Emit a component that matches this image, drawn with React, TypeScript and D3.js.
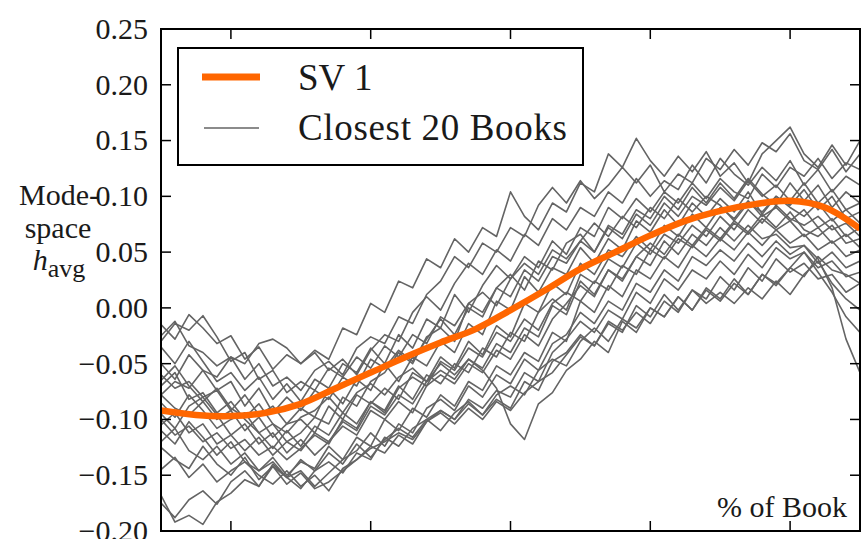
import React from 'react';
import * as d3 from 'd3';

// tick values
const yTicks = [-0.2, -0.15, -0.1, -0.05, 0, 0.05, 0.1, 0.15, 0.2, 0.25];
const xTicks = [10, 30, 50, 70, 90];

// SV 1 curve, read every 5 % of the book
const sv1Pct = d3.range(0, 101, 5);
const sv1 = [-0.092, -0.096, -0.097, -0.094, -0.086, -0.072, -0.058, -0.044, -0.031, -0.019, -0.002,
  0.016, 0.035, 0.050, 0.065, 0.078, 0.087, 0.093, 0.096, 0.090, 0.071];

// closest 20 books, read every 2 % of the book
const bookPct = d3.range(0, 101, 2);
const book01 = [-0.015, -0.028, -0.006, -0.018, -0.032, -0.025, -0.046, -0.035, -0.055, -0.042, -0.050, -0.038, -0.046, -0.018, -0.024, 0.004, -0.004, 0.024, 0.018, 0.044, 0.036, 0.062, 0.050, 0.072, 0.064, 0.104, 0.082, 0.070, 0.094, 0.086, 0.112, 0.104, 0.138, 0.126, 0.152, 0.132, 0.118, 0.136, 0.122, 0.140, 0.118, 0.130, 0.112, 0.138, 0.150, 0.162, 0.138, 0.126, 0.146, 0.128, 0.150];
const book02 = [-0.025, -0.012, -0.034, -0.040, -0.052, -0.044, -0.064, -0.050, -0.070, -0.062, -0.074, -0.056, -0.048, -0.060, -0.036, -0.026, -0.032, -0.008, -0.014, 0.012, 0.024, 0.046, 0.036, 0.058, 0.050, 0.072, 0.064, 0.092, 0.108, 0.094, 0.114, 0.098, 0.110, 0.126, 0.112, 0.128, 0.104, 0.120, 0.112, 0.134, 0.124, 0.142, 0.128, 0.148, 0.140, 0.156, 0.132, 0.124, 0.142, 0.122, 0.138];
const book03 = [-0.078, -0.066, -0.072, -0.056, -0.062, -0.044, -0.050, -0.032, -0.028, -0.036, -0.050, -0.040, -0.056, -0.046, -0.060, -0.038, -0.024, -0.030, -0.004, 0.010, -0.002, 0.022, 0.040, 0.030, 0.052, 0.042, 0.066, 0.056, 0.080, 0.070, 0.090, 0.082, 0.104, 0.094, 0.116, 0.100, 0.114, 0.106, 0.128, 0.112, 0.134, 0.120, 0.110, 0.126, 0.114, 0.132, 0.110, 0.124, 0.104, 0.118, 0.110];
const book04 = [-0.035, -0.050, -0.030, -0.048, -0.066, -0.058, -0.074, -0.062, -0.082, -0.068, -0.084, -0.064, -0.072, -0.050, -0.058, -0.036, -0.050, -0.024, -0.036, -0.010, -0.018, 0.012, -0.004, 0.020, 0.038, 0.026, 0.046, 0.036, 0.060, 0.048, 0.072, 0.064, 0.090, 0.080, 0.098, 0.086, 0.104, 0.094, 0.112, 0.098, 0.116, 0.104, 0.098, 0.120, 0.108, 0.126, 0.118, 0.134, 0.116, 0.130, 0.124];
const book05 = [-0.050, -0.064, -0.042, -0.056, -0.074, -0.066, -0.088, -0.072, -0.094, -0.080, -0.092, -0.074, -0.082, -0.062, -0.070, -0.046, -0.054, -0.038, -0.048, -0.028, -0.010, -0.024, 0.000, -0.008, 0.018, 0.030, 0.016, 0.042, 0.034, 0.058, 0.066, 0.050, 0.074, 0.066, 0.088, 0.080, 0.100, 0.088, 0.108, 0.094, 0.112, 0.098, 0.116, 0.102, 0.092, 0.112, 0.096, 0.110, 0.090, 0.104, 0.094];
const book06 = [-0.060, -0.072, -0.066, -0.080, -0.074, -0.092, -0.078, -0.096, -0.088, -0.104, -0.090, -0.098, -0.072, -0.086, -0.064, -0.074, -0.050, -0.066, -0.044, -0.052, -0.030, -0.040, -0.014, -0.024, 0.006, -0.002, 0.028, 0.014, 0.036, 0.030, 0.054, 0.040, 0.062, 0.052, 0.078, 0.068, 0.088, 0.074, 0.094, 0.082, 0.098, 0.086, 0.104, 0.084, 0.100, 0.092, 0.106, 0.088, 0.100, 0.080, 0.086];
const book07 = [-0.070, -0.058, -0.082, -0.076, -0.094, -0.084, -0.100, -0.112, -0.104, -0.120, -0.112, -0.098, -0.104, -0.080, -0.088, -0.066, -0.058, -0.040, -0.050, -0.026, -0.018, -0.030, 0.004, 0.014, 0.002, 0.026, 0.040, 0.030, 0.052, 0.044, 0.060, 0.076, 0.064, 0.082, 0.072, 0.090, 0.080, 0.098, 0.086, 0.100, 0.092, 0.078, 0.094, 0.086, 0.100, 0.090, 0.082, 0.094, 0.078, 0.088, 0.076];
const book08 = [-0.078, -0.090, -0.096, -0.084, -0.100, -0.092, -0.110, -0.098, -0.116, -0.104, -0.100, -0.112, -0.088, -0.100, -0.078, -0.086, -0.072, -0.082, -0.058, -0.066, -0.044, -0.054, -0.030, -0.042, -0.016, -0.026, 0.004, -0.004, 0.022, 0.012, 0.040, 0.030, 0.052, 0.046, 0.064, 0.052, 0.074, 0.064, 0.084, 0.072, 0.090, 0.080, 0.096, 0.082, 0.090, 0.078, 0.088, 0.072, 0.080, 0.064, 0.072];
const book09 = [-0.085, -0.098, -0.078, -0.092, -0.108, -0.100, -0.094, -0.112, -0.126, -0.110, -0.124, -0.106, -0.114, -0.094, -0.104, -0.084, -0.092, -0.070, -0.082, -0.060, -0.068, -0.050, -0.058, -0.036, -0.044, -0.022, -0.030, -0.004, 0.008, -0.002, 0.030, 0.022, 0.044, 0.036, 0.058, 0.048, 0.066, 0.058, 0.074, 0.064, 0.082, 0.070, 0.088, 0.076, 0.092, 0.080, 0.074, 0.082, 0.070, 0.076, 0.064];
const book10 = [-0.095, -0.108, -0.088, -0.080, -0.096, -0.114, -0.104, -0.122, -0.112, -0.130, -0.118, -0.132, -0.120, -0.106, -0.114, -0.092, -0.100, -0.084, -0.094, -0.070, -0.060, -0.068, -0.050, -0.058, -0.038, -0.046, -0.024, -0.034, -0.010, 0.004, 0.020, 0.010, 0.034, 0.024, 0.046, 0.058, 0.048, 0.066, 0.056, 0.072, 0.062, 0.078, 0.068, 0.084, 0.072, 0.086, 0.070, 0.064, 0.074, 0.058, 0.062];
const book11 = [-0.100, -0.114, -0.106, -0.120, -0.112, -0.126, -0.118, -0.132, -0.124, -0.136, -0.126, -0.114, -0.122, -0.100, -0.108, -0.084, -0.094, -0.072, -0.062, -0.070, -0.048, -0.056, -0.036, -0.044, -0.022, -0.030, -0.010, -0.020, 0.004, 0.014, 0.006, 0.024, 0.016, 0.038, 0.030, 0.052, 0.044, 0.062, 0.054, 0.070, 0.060, 0.076, 0.066, 0.080, 0.070, 0.078, 0.064, 0.072, 0.058, 0.066, 0.054];
const book12 = [-0.110, -0.122, -0.102, -0.116, -0.132, -0.120, -0.138, -0.146, -0.134, -0.150, -0.138, -0.144, -0.124, -0.136, -0.116, -0.124, -0.100, -0.110, -0.090, -0.098, -0.078, -0.088, -0.066, -0.074, -0.052, -0.060, -0.040, -0.048, -0.022, -0.030, 0.006, -0.004, 0.020, 0.010, 0.034, 0.026, 0.046, 0.036, 0.056, 0.046, 0.062, 0.052, 0.068, 0.056, 0.070, 0.058, 0.066, 0.052, 0.060, 0.046, 0.052];
const book13 = [-0.120, -0.108, -0.128, -0.136, -0.124, -0.140, -0.130, -0.146, -0.138, -0.152, -0.146, -0.160, -0.148, -0.136, -0.128, -0.112, -0.124, -0.104, -0.112, -0.090, -0.082, -0.092, -0.070, -0.080, -0.060, -0.068, -0.046, -0.056, -0.032, -0.024, -0.004, -0.014, 0.006, -0.002, 0.022, 0.014, 0.034, 0.024, 0.046, 0.038, 0.052, 0.042, 0.058, 0.046, 0.060, 0.048, 0.056, 0.040, 0.050, 0.036, 0.042];
const book14 = [-0.125, -0.136, -0.144, -0.124, -0.140, -0.150, -0.134, -0.154, -0.142, -0.158, -0.148, -0.162, -0.156, -0.146, -0.136, -0.124, -0.130, -0.114, -0.122, -0.102, -0.092, -0.100, -0.082, -0.090, -0.074, -0.080, -0.058, -0.066, -0.040, -0.028, -0.012, -0.022, -0.002, -0.010, 0.014, 0.004, 0.026, 0.016, 0.034, 0.026, 0.042, 0.030, 0.048, 0.036, 0.054, 0.044, 0.050, 0.036, 0.042, 0.028, 0.032];
const book15 = [-0.145, -0.134, -0.152, -0.140, -0.156, -0.146, -0.138, -0.150, -0.158, -0.146, -0.160, -0.150, -0.164, -0.144, -0.136, -0.126, -0.120, -0.112, -0.118, -0.102, -0.094, -0.104, -0.090, -0.100, -0.084, -0.092, -0.076, -0.066, -0.058, -0.042, -0.026, -0.034, -0.012, -0.020, -0.004, -0.014, 0.006, -0.004, 0.016, 0.008, 0.028, 0.016, 0.036, 0.024, 0.044, 0.032, 0.040, 0.026, 0.030, 0.014, 0.022];
const book16 = [-0.065, -0.052, -0.070, -0.084, -0.072, -0.090, -0.098, -0.086, -0.104, -0.112, -0.098, -0.092, -0.080, -0.094, -0.076, -0.068, -0.078, -0.062, -0.054, -0.066, -0.050, -0.060, -0.046, -0.056, -0.072, -0.104, -0.118, -0.086, -0.076, -0.056, -0.046, -0.030, -0.040, -0.012, -0.022, 0.000, -0.008, 0.010, -0.002, 0.018, 0.008, 0.026, 0.012, 0.030, 0.022, 0.036, 0.028, 0.046, 0.034, 0.030, 0.022];
const book17 = [-0.175, -0.188, -0.172, -0.164, -0.176, -0.156, -0.146, -0.160, -0.140, -0.152, -0.162, -0.146, -0.138, -0.148, -0.130, -0.136, -0.116, -0.124, -0.108, -0.100, -0.110, -0.094, -0.084, -0.096, -0.078, -0.070, -0.078, -0.056, -0.046, -0.052, -0.030, -0.018, -0.030, -0.010, -0.018, 0.000, -0.008, 0.010, -0.002, 0.016, 0.006, 0.022, 0.012, 0.030, 0.020, 0.036, 0.050, 0.032, 0.014, -0.008, -0.022];
const book18 = [-0.168, -0.192, -0.186, -0.194, -0.174, -0.166, -0.154, -0.160, -0.142, -0.152, -0.136, -0.146, -0.130, -0.140, -0.122, -0.134, -0.118, -0.108, -0.116, -0.100, -0.092, -0.100, -0.086, -0.096, -0.082, -0.090, -0.066, -0.074, -0.048, -0.040, -0.024, -0.034, -0.014, -0.022, 0.002, -0.008, 0.012, -0.002, 0.016, 0.004, 0.014, 0.004, 0.018, 0.008, 0.024, 0.012, 0.030, 0.042, 0.022, 0.008, -0.002];
const book19 = [-0.030, -0.014, -0.020, -0.007, -0.026, -0.048, -0.040, -0.064, -0.056, -0.076, -0.066, -0.074, -0.054, -0.062, -0.044, -0.054, -0.034, -0.044, -0.024, -0.032, -0.008, -0.016, 0.004, -0.004, 0.018, 0.010, 0.034, 0.024, 0.046, 0.040, 0.060, 0.050, 0.072, 0.062, 0.084, 0.074, 0.094, 0.082, 0.100, 0.092, 0.108, 0.096, 0.114, 0.100, 0.110, 0.096, 0.112, 0.094, 0.106, 0.088, 0.094];
const book20 = [-0.105, -0.094, -0.112, -0.104, -0.122, -0.114, -0.128, -0.116, -0.132, -0.120, -0.128, -0.112, -0.120, -0.102, -0.110, -0.088, -0.096, -0.078, -0.086, -0.066, -0.056, -0.064, -0.046, -0.054, -0.032, -0.040, -0.018, -0.026, 0.002, -0.006, 0.024, 0.012, 0.034, 0.026, 0.046, 0.038, 0.060, 0.048, 0.066, 0.056, 0.072, 0.060, 0.074, 0.062, 0.066, 0.054, 0.056, 0.044, 0.018, -0.028, -0.058];

const books = [book01, book02, book03, book04, book05, book06, book07, book08, book09, book10,
  book11, book12, book13, book14, book15, book16, book17, book18, book19, book20];

const W = 861;
const H = 539;
const left = 161;
const right = 860;
const top = 29;
const bottom = 531;
const tickLen = 10;
const font = '"Liberation Serif", "Times New Roman", "DejaVu Serif", serif';
const orange = '#ff6600';
const grey = '#646464';
const ink = '#1a1a1a';

export default function App() {
  const x = d3.scaleLinear().domain([0, 100]).range([left, right]);
  const y = d3.scaleLinear().domain([-0.2, 0.25]).range([bottom, top]);
  const fmt = d3.format('.2f');

  const bookLine = d3.line<number>()
    .x((d, i) => x(bookPct[i]))
    .y((d) => y(d));
  const svLine = d3.line<number>()
    .x((d, i) => x(sv1Pct[i]))
    .y((d) => y(d))
    .curve(d3.curveCatmullRom.alpha(0.5));

  return (
    <svg width={W} height={H} style={{ position: 'absolute', left: 0, top: 0, background: '#fff', fontFamily: font }}>
      <defs>
        <clipPath id="plot">
          <rect x={left} y={top} width={right - left} height={bottom - top} />
        </clipPath>
      </defs>

      <g clipPath="url(#plot)">
        {books.map((b, i) => (
          <path key={i} d={bookLine(b) || ''} fill="none" stroke={grey} strokeWidth={1.6}
            strokeLinejoin="round" />
        ))}
        <path d={svLine(sv1) || ''} fill="none" stroke={orange} strokeWidth={6.5} />
      </g>

      {/* ticks point inwards on all four sides */}
      <g stroke="#000" strokeWidth={1.5}>
        {yTicks.map((t) => (
          <g key={t}>
            <line x1={left} x2={left + tickLen} y1={y(t)} y2={y(t)} />
            <line x1={right} x2={right - tickLen} y1={y(t)} y2={y(t)} />
          </g>
        ))}
        {xTicks.map((t) => (
          <g key={t}>
            <line x1={x(t)} x2={x(t)} y1={bottom} y2={bottom - tickLen} />
            <line x1={x(t)} x2={x(t)} y1={top} y2={top + tickLen} />
          </g>
        ))}
      </g>
      <rect x={left} y={top} width={right - left} height={bottom - top} fill="none" stroke="#000" strokeWidth={2} />

      <g fontSize={30} fill={ink} textAnchor="end" style={{ fontFamily: font }}>
        {yTicks.map((t) => (
          <text key={t} x={148} y={y(t)} dy="0.33em">{fmt(t)}</text>
        ))}
      </g>

      {/* y label */}
      <g fontSize={30} fill={ink} textAnchor="middle" style={{ fontFamily: font }}>
        <text x={59} y={205}>Mode-</text>
        <text x={58} y={238}>space</text>
        <text x={59} y={270}>
          <tspan fontStyle="italic">h</tspan>
          <tspan fontSize={26} dy={7}>avg</tspan>
        </text>
      </g>

      <text x={847} y={517} fontSize={30} fill={ink} textAnchor="end" style={{ fontFamily: font }}>% of Book</text>

      {/* legend */}
      <g style={{ fontFamily: font }}>
        <rect x={178} y={48} width={405} height={117} fill="#fff" stroke="#000" strokeWidth={2} />
        <line x1={202} x2={260} y1={77} y2={77} stroke={orange} strokeWidth={7} />
        <line x1={204} x2={259} y1={128} y2={128} stroke={grey} strokeWidth={1.6} />
        <text x={298} y={90} fontSize={37} fill={ink}>SV 1</text>
        <text x={298} y={140} fontSize={37} fill={ink} textLength={269} lengthAdjust="spacing">Closest 20 Books</text>
      </g>
    </svg>
  );
}
